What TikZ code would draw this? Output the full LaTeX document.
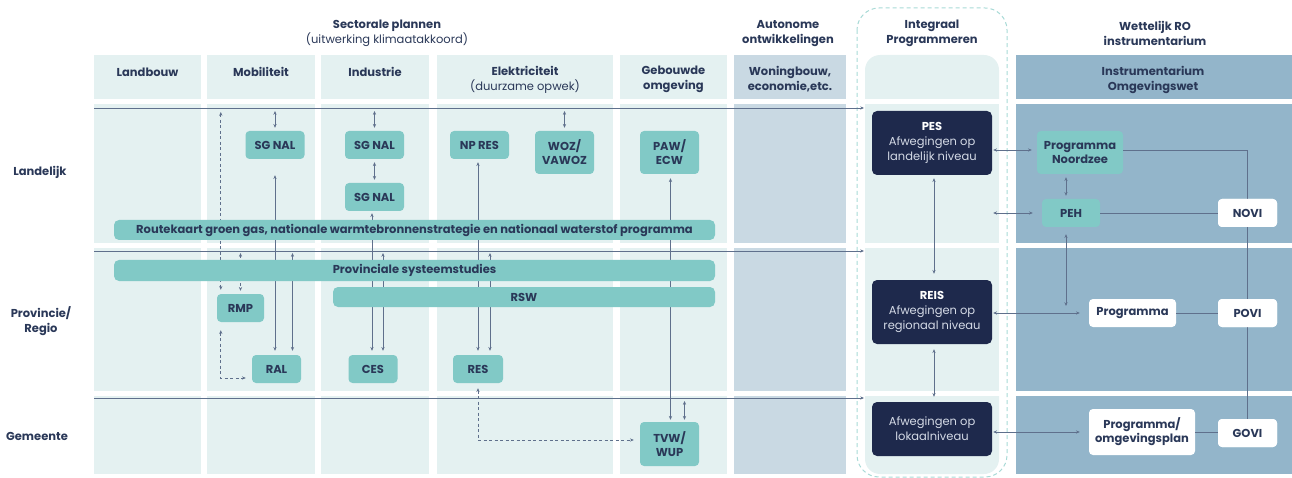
\documentclass[tikz,border=0pt]{standalone}
\usepackage{fontspec}
\setmainfont{Poppins}
\usetikzlibrary{arrows.meta,calc}
\definecolor{bgl}{RGB}{228,241,241}
\definecolor{autoc}{RGB}{201,217,227}
\definecolor{wetc}{RGB}{147,181,202}
\definecolor{tealc}{RGB}{129,201,198}
\definecolor{navy}{RGB}{30,41,76}
\definecolor{txt}{RGB}{42,56,88}
\definecolor{lnc}{RGB}{95,112,140}
\definecolor{dashc}{RGB}{168,218,214}
\definecolor{ltxt}{RGB}{212,218,230}
\newcommand\subfont{\mdseries\fontsize{11.5}{15}\selectfont}
\begin{document}
\begin{tikzpicture}[x=1pt,y=-1pt,
  >={Stealth[length=3.8pt,width=3.2pt]},
  conn/.style={draw=lnc,line width=0.8pt},
  dbl/.style={conn,<->},
  dsh/.style={dash pattern=on 3pt off 2.5pt},
  tbox/.style={fill=tealc,rounded corners=4pt,text=txt,font=\bfseries\fontsize{11.5}{14}\selectfont,align=center,inner sep=0pt},
  wbox/.style={tbox,fill=white},
  dbox/.style={fill=navy,rounded corners=5pt,text=ltxt,font=\fontsize{11.5}{15}\selectfont,align=center,inner sep=0pt,minimum width=120pt},
  bar/.style={fill=tealc,rounded corners=5pt,text=txt,font=\bfseries\fontsize{11.5}{14}\selectfont,inner sep=0pt},
  hdr/.style={text=txt,font=\bfseries\fontsize{11.5}{15}\selectfont,align=center,inner sep=0pt}
]
\useasboundingbox (0,0) rectangle (1292,478);
% backgrounds
\foreach \xa/\xb in {94/201,207/315,321/429,437/613,620/727}{
  \foreach \ya/\yb in {55/99,104/243,248/391,396/474}{
    \fill[bgl] (\xa,\ya) rectangle (\xb,\yb);
  }
}
\foreach \ya/\yb in {55/99,104/243,248/391,396/474}{
  \fill[autoc] (734,\ya) rectangle (846,\yb);
  \fill[wetc] (1016,\ya) rectangle (1292,\yb);
}
\fill[bgl] (865,99) [rounded corners=15pt] -- (865,55) -- (999,55) [sharp corners] -- (999,99) -- cycle;
\fill[bgl] (865,104) rectangle (999,243);
\fill[bgl] (865,248) rectangle (999,391);
\fill[bgl] (865,396) [rounded corners=15pt] -- (865,474) -- (999,474) [sharp corners] -- (999,396) -- cycle;
\draw[dashc,line width=1pt,dash pattern=on 4pt off 3pt,rounded corners=22pt] (857,8) rectangle (1007,477);

% headers
\node[hdr] (hsec) at (387,33.5) {Sectorale plannen\\{\subfont (uitwerking klimaatakkoord)}};
\node[hdr] (haut) at (788,33.5) {Autonome\\ontwikkelingen};
\node[hdr] (hint) at (932,33.5) {Integraal\\Programmeren};
\node[hdr] (hwet) at (1155,33.5) {Wettelijk RO\\instrumentarium};
\node[hdr] (clb) at (147.5,72) {Landbouw};
\node[hdr] (cmo) at (261,72) {Mobiliteit};
\node[hdr] (cin) at (375,72) {Industrie};
\node[hdr] (cel) at (525,79.5) {Elektriciteit\\{\subfont (duurzame opwek)}};
\node[hdr] (cgo) at (673.5,79.5) {Gebouwde\\omgeving};
\node[hdr] (cwo) at (790,79.5) {Woningbouw,\\economie,etc.};
\node[hdr] (cio) at (1153,79.5) {Instrumentarium\\Omgevingswet};
\node[hdr] (rl) at (40,172) {Landelijk};
\node[hdr] (rp) at (41,321) {Provincie/\\Regio};
\node[hdr] (rg) at (37,436) {Gemeente};

% horizontal level lines
\coordinate (l1s) at (94,108);  \coordinate (l1e) at (864,108);
\coordinate (l2s) at (94,251);  \coordinate (l2e) at (864,251);
\coordinate (l3s) at (94,398);  \coordinate (l3e) at (864,398);
\draw[conn,->] (l1s) -- (l1e);
\draw[conn,->] (l2s) -- (l2e);
\draw[conn,->] (l3s) -- (l3e);

% nodes
\path
 (275,145) node[tbox,minimum width=59pt,minimum height=28pt] (sg1) {SG NAL}
 (374.5,145) node[tbox,minimum width=59pt,minimum height=28pt] (sg2) {SG NAL}
 (374.5,197) node[tbox,minimum width=59pt,minimum height=28pt] (sg3) {SG NAL}
 (479.5,145) node[tbox,minimum width=59pt,minimum height=28pt] (npres) {NP RES}
 (564.5,152.5) node[tbox,minimum width=59pt,minimum height=43pt] (woz) {WOZ/\\VAWOZ}
 (669.5,152.5) node[tbox,minimum width=59pt,minimum height=43pt] (paw) {PAW/\\ECW}
 (240.5,308) node[tbox,minimum width=47pt,minimum height=28pt] (rmp) {RMP}
 (276.5,369) node[tbox,minimum width=49pt,minimum height=28pt] (ral) {RAL}
 (373,369) node[tbox,minimum width=49pt,minimum height=28pt] (ces) {CES}
 (478,369) node[tbox,minimum width=50pt,minimum height=28pt] (res) {RES}
 (669.5,444) node[tbox,minimum width=59pt,minimum height=44pt] (tvw) {TVW/\\WUP}
 (932,143) node[dbox,minimum height=64pt] (pes) {{\color{white}\bfseries PES}\\Afwegingen op\\landelijk niveau}
 (932,312) node[dbox,minimum height=64pt] (reis) {{\color{white}\bfseries REIS}\\Afwegingen op\\regionaal niveau}
 (932,429) node[dbox,minimum height=54pt] (lok) {Afwegingen op\\lokaalniveau}
 (1080,152.5) node[tbox,minimum width=86pt,minimum height=43pt] (prn) {Programma\\Noordzee}
 (1071,213) node[tbox,minimum width=58pt,minimum height=28pt] (peh) {PEH}
 (1247.5,213) node[wbox,minimum width=59pt,minimum height=28pt] (novi) {NOVI}
 (1132.5,313) node[wbox,minimum width=87pt,minimum height=28pt] (prog) {Programma}
 (1247.5,313) node[wbox,minimum width=59pt,minimum height=28pt] (povi) {POVI}
 (1142,432) node[wbox,minimum width=106pt,minimum height=46pt] (prgo) {Programma/\\omgevingsplan}
 (1247.5,433) node[wbox,minimum width=59pt,minimum height=28pt] (govi) {GOVI};

% connectors
% Mobiliteit
\draw[dbl,shorten <=3pt,shorten >=3pt] (sg1.north |- l1s) -- (sg1.north);
\draw[dbl,dsh,shorten <=4pt,shorten >=4pt] ([xshift=4pt]rmp.north west |- l1s) -- ([xshift=4pt]rmp.north west);
\draw[dbl,dsh,shorten <=2pt,shorten >=3pt] (rmp.north |- l2s) -- (rmp.north);
\draw[dbl,shorten <=16pt,shorten >=4pt] (sg1.south) -- (sg1.south |- ral.north);
\draw[dbl,shorten <=2pt,shorten >=4pt] ([xshift=16pt]ral.north |- l2s) -- ([xshift=16pt]ral.north);
\draw[dbl,dsh,shorten <=8pt,shorten >=6pt] ([xshift=4pt]rmp.south west) |- ([yshift=-9pt]ral.west);
% Industrie
\draw[dbl,shorten <=3pt,shorten >=3pt] (sg2.north |- l1s) -- (sg2.north);
\draw[dbl,shorten <=3pt,shorten >=3pt] (sg2.south) -- (sg3.north);
\draw[dbl,shorten <=2pt,shorten >=4pt] ([xshift=-1pt]ces.north |- sg3.south) -- ([xshift=-1pt]ces.north);
\draw[dbl,shorten <=2pt,shorten >=4pt] ([xshift=10pt]ces.north |- l2s) -- ([xshift=10pt]ces.north);
% Elektriciteit
\draw[dbl,shorten <=3pt,shorten >=4pt] (res.north |- npres.south) -- (res.north);
\draw[dbl,shorten <=2pt,shorten >=4pt] ([xshift=12pt]res.north |- l2s) -- ([xshift=12pt]res.north);
\draw[dbl,shorten <=3pt,shorten >=3pt] (woz.north |- l1s) -- (woz.north);
\draw[dbl,dsh,shorten <=5pt,shorten >=6pt] (res.south) |- ([yshift=4pt]tvw.west);
% Gebouwde omgeving
\draw[dbl,shorten <=4pt,shorten >=2pt] ([xshift=1pt]paw.south) -- ([xshift=1pt]paw.south |- tvw.north);
\draw[dbl,shorten <=3pt,shorten >=2pt] ([xshift=15pt]tvw.north |- l3s) -- ([xshift=15pt]tvw.north);
% Integraal / Wettelijk
\coordinate (a1) at ([yshift=2.5pt]prn.west);
\draw[dbl,shorten <=1pt,shorten >=5pt] (pes.east |- a1) -- (a1);
\draw[dbl,shorten <=1pt,shorten >=9pt] (pes.east |- peh.west) -- (peh.west);
\draw[dbl,shorten <=3pt,shorten >=3pt] ([xshift=-5pt]peh.north) -- ([xshift=-5pt]peh.north |- prn.south);
\coordinate (pv) at (1066,306);
\draw[dbl,shorten <=7pt] ([xshift=-5pt]peh.south) -- (pv);
\draw[dbl,shorten <=1pt,shorten >=9pt] (reis.east |- prog.west) -- (prog.west);
\draw[dbl,shorten <=1pt,shorten >=9pt] (lok.east |- prgo.west) -- (prgo.west);
\draw[dbl,shorten <=3pt,shorten >=6pt] ([xshift=2pt]pes.south) -- ([xshift=2pt]reis.north);
\draw[dbl,shorten <=5pt,shorten >=5pt] ([xshift=2pt]reis.south) -- ([xshift=2pt]lok.north);
\draw[conn] ([yshift=2.5pt]prn.east) -| (govi.north);
\draw[conn] (peh.east) -- (novi.west);
\draw[conn] (prog.east) -- (povi.west);
\draw[conn] (prgo.east) -- (prgo.east -| govi.west);

% bars on top of vertical lines
\node[bar,minimum width=601pt,minimum height=20pt] (route) at (414.5,230) {Routekaart groen gas, nationale warmtebronnenstrategie en nationaal waterstof programma};
\node[bar,minimum width=601pt,minimum height=21pt] (prov) at (414.5,270.5) {Provinciale systeemstudies};
\node[bar,minimum width=382pt,minimum height=20pt] (rsw) at (524,297) {RSW};

% redraw boxes on top of the vertical NOVI-GOVI line
\node[wbox,minimum width=59pt,minimum height=28pt] at (novi) {NOVI};
\node[wbox,minimum width=59pt,minimum height=28pt] at (povi) {POVI};
\node[wbox,minimum width=59pt,minimum height=28pt] at (govi) {GOVI};
\end{tikzpicture}
\end{document}
